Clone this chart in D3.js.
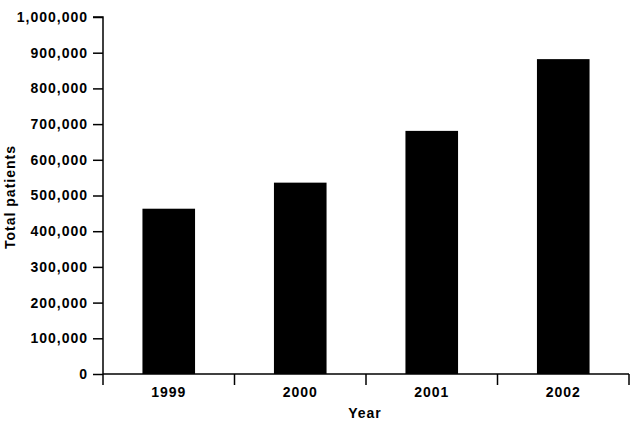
<!DOCTYPE html>
<html><head><meta charset="utf-8">
<script src="https://cdn.jsdelivr.net/npm/d3@7"></script>
<style>
body{margin:0;background:#fff;}
text{font-family:"Liberation Sans",Arial,Helvetica,sans-serif;font-weight:bold;fill:#000;letter-spacing:1px;}
</style></head>
<body>
<svg id="c" width="636" height="425"></svg>
<script>
const years = ["1999","2000","2001","2002"];
const patients = [463000, 536000, 681000, 882000];
const yTicks = [0,100000,200000,300000,400000,500000,600000,700000,800000,900000,1000000];

(function(){
const svg = d3.select("#c");
const mL = 103, mR = 629, mT = 17, mB = 374;

const x = d3.scaleBand().domain(years).range([mL, mR]).paddingInner(0.6).paddingOuter(0.3);
const y = d3.scaleLinear().domain([0, 1000000]).range([mB, mT]);

// bars
svg.selectAll("rect.bar").data(years).enter().append("rect")
  .attr("class","bar")
  .attr("x", d => x(d))
  .attr("width", x.bandwidth())
  .attr("y", (d,i) => y(patients[i]))
  .attr("height", (d,i) => y(0) - y(patients[i]))
  .attr("fill", "#000");

// y axis
const yAxis = d3.axisLeft(y).tickValues(yTicks).tickSize(10).tickPadding(5)
  .tickFormat(d3.format(","));
const gy = svg.append("g").attr("transform", `translate(${mL},0)`).call(yAxis);
gy.select(".domain").attr("stroke","#000").attr("stroke-width",1.5).attr("d", `M-10,${mT}H0V${mB}`);
gy.selectAll(".tick line").attr("stroke","#000").attr("stroke-width",1.5);
gy.selectAll(".tick text").style("font-size","14px");

// x axis
const xAxis = d3.axisBottom(x).tickSize(0).tickPadding(13);
const gx = svg.append("g").attr("transform", `translate(0,${mB})`).call(xAxis);
gx.select(".domain").attr("stroke","#000").attr("stroke-width",1.5).attr("d", `M${mL},0H${mR}`);
gx.selectAll(".tick text").style("font-size","14px");
// category boundary ticks
const step = x.step();
const gap = (step - x.bandwidth())/2;
const bounds = years.map(d => x(d) - gap).concat([x(years[years.length-1]) + x.bandwidth() + gap]);
gx.selectAll("line.bt").data(bounds).enter().append("line")
  .attr("class","bt").attr("x1", d=>d).attr("x2", d=>d).attr("y1",0).attr("y2",11)
  .attr("stroke","#000").attr("stroke-width",1.5);

// axis titles
svg.append("text").attr("x", 365).attr("y", 418).attr("text-anchor","middle")
  .style("font-size","14px").text("Year");
svg.append("text").attr("transform", "translate(15,197) rotate(-90)").attr("text-anchor","middle")
  .style("font-size","14px").text("Total patients");
})();
</script>
</body></html>
